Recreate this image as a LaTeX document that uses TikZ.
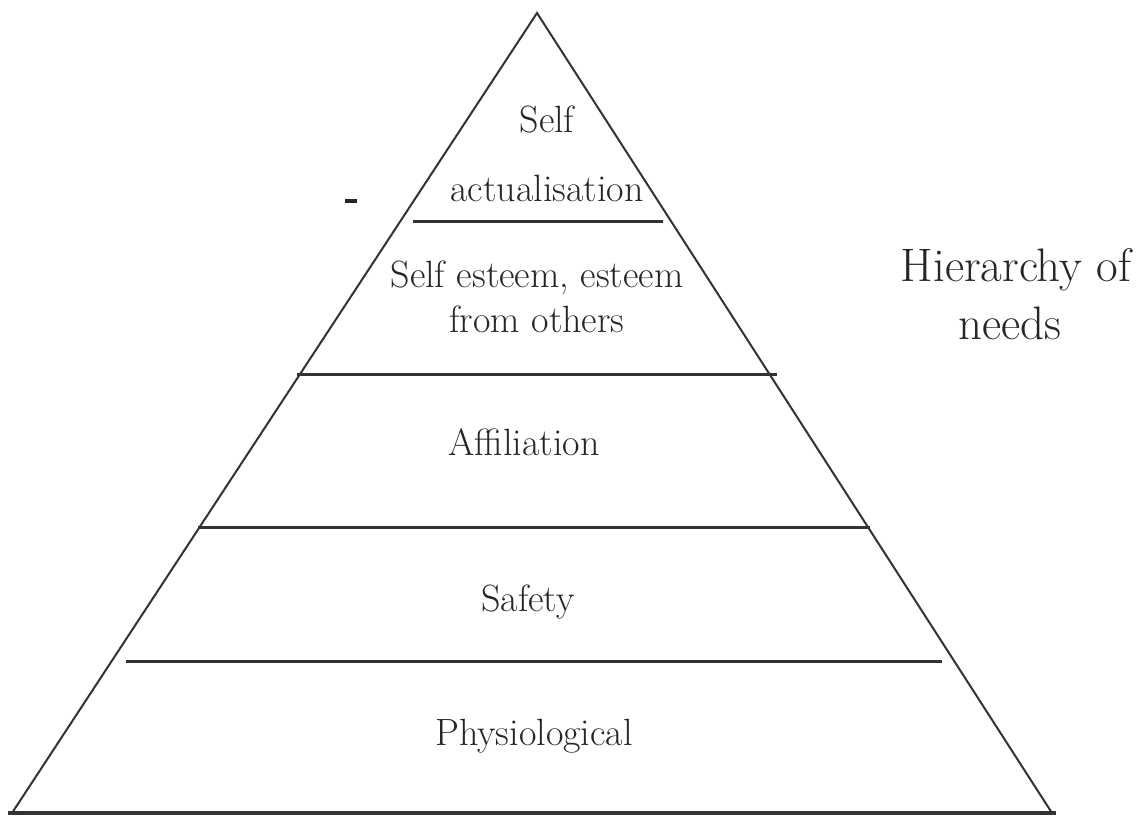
\documentclass[tikz,border=0pt]{standalone}
\begin{document}
\begin{tikzpicture}[x=0.5pt,y=-0.5pt,
  edge/.style={draw=black!80,line width=1pt},
  tier/.style={draw=black!80,line width=1.5pt},
  lbl/.style={anchor=base,inner sep=0pt,text=black!85,font=\fontsize{19}{22}\selectfont},
  ttl/.style={anchor=base,inner sep=0pt,text=black!85,font=\fontsize{23.5}{26}\selectfont}]
\useasboundingbox (0,0) rectangle (1147,817);
% outline of the pyramid
\coordinate (apex) at (537,13);
\coordinate (bl) at (12,813);
\coordinate (br) at (1052,813);
\coordinate (basel) at (8,813);
\coordinate (baser) at (1056,813);
\draw[edge] (bl) -- (apex) -- (br);
\draw[draw=black!80,line width=1.6pt] (basel) -- (baser);
% tier separators
\coordinate (t1l) at (413,222); \coordinate (t1r) at (663,222);
\coordinate (t2l) at (297,375); \coordinate (t2r) at (777,375);
\coordinate (t3l) at (198,528); \coordinate (t3r) at (870,528);
\coordinate (t4l) at (126,662); \coordinate (t4r) at (942,662);
\draw[tier] (t1l) -- (t1r);
\draw[tier] (t2l) -- (t2r);
\draw[tier] (t3l) -- (t3r);
\draw[tier] (t4l) -- (t4r);
% stray mark left of the top tier
\coordinate (mkl) at (345,201); \coordinate (mkr) at (357,201);
\draw[draw=black!85,line width=1.6pt] (mkl) -- (mkr);
% tier labels
\node[lbl] (self) at (547,133) {Self};
\node[lbl] (actual) at (547,202) {actualisation};
\node[lbl] (esteem) at (537,288) {Self esteem, esteem};
\node[lbl] (others) at (537,333) {from others};
\node[lbl] (affil) at (524,456) {Affiliation};
\node[lbl] (safety) at (528,612) {Safety};
\node[lbl] (physio) at (534,746) {Physiological};
% title
\node[ttl] (title1) at (1016,282) {Hierarchy of};
\node[ttl] (title2) at (1010,340) {needs};
\end{tikzpicture}
\end{document}
